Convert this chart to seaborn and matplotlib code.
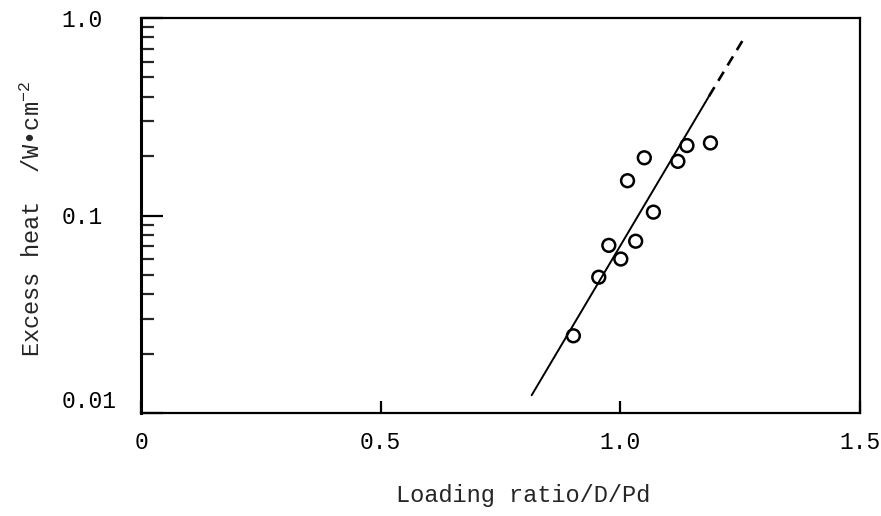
import numpy as np
import pandas as pd
import matplotlib
matplotlib.use('Agg')
import matplotlib.pyplot as plt
from matplotlib.ticker import FixedLocator, NullFormatter
import seaborn as sns

# measured points (loading ratio D/Pd vs excess heat W/cm2)
loading_ratio = [0.902, 0.955, 0.976, 1.001, 1.032, 1.069, 1.015, 1.050, 1.120, 1.139, 1.188]
excess_heat = [0.0246, 0.0487, 0.0706, 0.0602, 0.0741, 0.104, 0.150, 0.196, 0.188, 0.226, 0.233]

# fitted line (solid) and its extrapolation (dashed)
fit_x = [0.815, 1.185]
fit_y = [0.0123, 0.402]
extrap_x = [1.185, 1.262]
extrap_y = [0.402, 0.82]

x_ticks = [0, 0.5, 1.0, 1.5]
x_tick_labels = ['0', '0.5', '1.0', '1.5']
y_ticks = [0.01, 0.1, 1.0]
y_tick_labels = ['0.01', '0.1', '1.0']

sns.set_style('ticks')
plt.rcParams['font.family'] = ['Liberation Mono', 'DejaVu Sans Mono']
plt.rcParams['mathtext.fontset'] = 'custom'
plt.rcParams['mathtext.rm'] = 'Liberation Mono'
plt.rcParams['mathtext.it'] = 'Liberation Mono'

pts = pd.DataFrame({'x': loading_ratio, 'y': excess_heat})
fit = pd.DataFrame({'x': fit_x, 'y': fit_y})
ext = pd.DataFrame({'x': extrap_x, 'y': extrap_y})

fig = plt.figure(figsize=(8.81, 5.16), dpi=100)
ax = fig.add_axes([141 / 881, 1 - 413 / 516, 719 / 881, 395 / 516])

sns.lineplot(data=fit, x='x', y='y', ax=ax, color='black', linewidth=1.4,
             sort=False, estimator=None)
sns.lineplot(data=ext, x='x', y='y', ax=ax, color='black', linewidth=1.9,
             sort=False, estimator=None, linestyle=(0, (4, 2.8)))
sns.scatterplot(data=pts, x='x', y='y', ax=ax, s=85, facecolors='none',
                edgecolor='black', linewidth=1.8, zorder=3)

ax.set_yscale('log')
ax.set_xlim(0, 1.5)
ax.set_ylim(0.01, 1.0)

ax.set_xticks(x_ticks)
ax.set_xticklabels(x_tick_labels)
ax.yaxis.set_major_locator(FixedLocator(y_ticks))
ax.set_yticklabels(y_tick_labels)
minor = [m * d for d in (0.01, 0.1) for m in range(2, 10)]
ax.yaxis.set_minor_locator(FixedLocator(minor))
ax.yaxis.set_minor_formatter(NullFormatter())

ax.tick_params(axis='x', which='major', direction='in', length=9, width=1.6,
               pad=13, labelsize=16.5, colors='black')
ax.tick_params(axis='y', which='major', direction='in', length=16, width=1.6,
               pad=57, labelsize=16.5, colors='black')
ax.tick_params(axis='y', which='minor', direction='in', length=9, width=1.6)
for lab in ax.get_yticklabels():
    lab.set_horizontalalignment('left')
ax.get_yticklabels()[0].set_verticalalignment('bottom')

for sp in ax.spines.values():
    sp.set_visible(True)
    sp.set_linewidth(1.6)
    sp.set_color('black')
ax.spines['left'].set_linewidth(2.2)

ax.set_xlabel('Loading ratio/D/Pd', fontsize=17)
ax.xaxis.set_label_coords(0.531, -0.18)
ax.set_ylabel('Excess heat  /W\u2022cm$^{-2}$', fontsize=17)
ax.yaxis.set_label_coords(-0.133, 0.49)

fig.savefig('out.png', dpi=100, facecolor='white')
